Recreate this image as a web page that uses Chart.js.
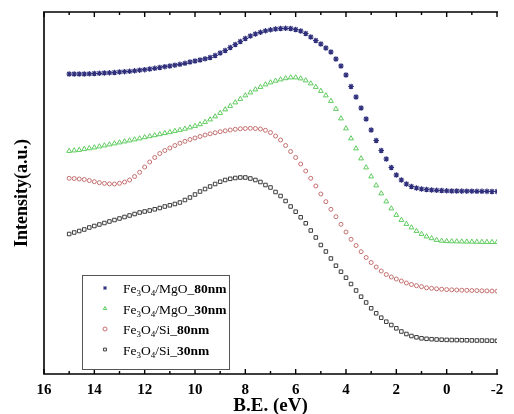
<!DOCTYPE html>
<html>
<head>
<meta charset="utf-8">
<script src="https://cdn.jsdelivr.net/npm/chart.js@4.4.1/dist/chart.umd.min.js"></script>
<style>
    html, body { margin: 0; padding: 0; background: #fff; }
    #wrap { width: 514px; height: 414px; }
</style>
</head>
<body>
<div id="wrap"><canvas id="xpsChart"></canvas></div>
<script>
// binding energy (eV), 0.2 eV steps
const energy = [
    15, 14.8, 14.6, 14.4, 14.2, 14, 13.8, 13.6, 13.4, 13.2,
    13, 12.8, 12.6, 12.4, 12.2, 12, 11.8, 11.6, 11.4, 11.2,
    11, 10.8, 10.6, 10.4, 10.2, 10, 9.8, 9.6, 9.4, 9.2,
    9, 8.8, 8.6, 8.4, 8.2, 8, 7.8, 7.6, 7.4, 7.2,
    7, 6.8, 6.6, 6.4, 6.2, 6, 5.8, 5.6, 5.4, 5.2,
    5, 4.8, 4.6, 4.4, 4.2, 4, 3.8, 3.6, 3.4, 3.2,
    3, 2.8, 2.6, 2.4, 2.2, 2, 1.8, 1.6, 1.4, 1.2,
    1, 0.8, 0.6, 0.4, 0.2, 0, -0.2, -0.4, -0.6, -0.8,
    -1, -1.2, -1.4, -1.6, -1.8, -2
];

// intensities in arbitrary units (offset curves)
const mgo80 = [
    300, 300, 300, 300, 300.2, 300.5, 300.7, 301, 301.2, 301.5,
    302, 302.3, 302.7, 303.2, 303.8, 304.3, 305, 305.7, 306.5, 307.3,
    308, 308.8, 309.7, 310.7, 312, 313, 314, 315.2, 316.5, 318.5,
    321, 323.5, 326.5, 329.5, 332.5, 335.5, 338, 340, 341.7, 343.2,
    344.2, 345, 345.5, 345.7, 345.5, 344.5, 343, 340.5, 337, 333.5,
    330, 326, 322, 315, 308, 299, 287.5, 277, 266, 255,
    244, 233.5, 223.5, 215, 206.5, 199, 194, 190, 187.5, 186,
    185, 184.5, 184, 183.7, 183.5, 183.2, 183, 183, 182.9, 182.8,
    182.8, 182.7, 182.7, 182.6, 182.5, 182.5
];

const mgo30 = [
    223, 223.5, 224, 225, 225.7, 226.5, 227.5, 228.5, 229.5, 230.5,
    231.5, 232.5, 233.5, 234.5, 235.5, 236.7, 237.7, 238.7, 239.7, 240.8,
    241.8, 243, 244, 245.2, 246.5, 248, 249.7, 252, 254.5, 257.5,
    261, 264.5, 268, 271.5, 275, 278.5, 281.5, 284.5, 287, 289.5,
    291.5, 293.2, 294.5, 295.7, 296.5, 296.5, 295.5, 293.5, 290.5, 287,
    283, 278.5, 273, 265, 255.5, 245.5, 235.5, 225.5, 215.5, 206.5,
    197.5, 188.5, 180.5, 172.5, 165.5, 159, 154, 150, 146.5, 143,
    140, 137.5, 135.7, 134, 133.2, 132.8, 132.6, 132.5, 132.4, 132.3,
    132.2, 132.1, 132, 132, 131.9, 131.8
];

const si80 = [
    195.7, 195.5, 195, 194.5, 193.5, 192.3, 191.3, 190.6, 190.1, 190,
    190.7, 192, 194, 197.5, 201.7, 207, 212, 216.5, 220.5, 223.5,
    226, 228.5, 230.8, 232.7, 234.5, 236, 237.5, 239, 240.2, 241.3,
    242.3, 243.2, 244, 244.7, 245.2, 245.5, 245.7, 245.5, 245, 243.7,
    241.5, 238, 234, 228.5, 222.5, 216.5, 210, 203, 195.7, 188,
    180, 172.3, 164.7, 157.3, 149.7, 142, 134.7, 128.5, 122.3, 116.5,
    111.5, 107, 103, 99.5, 97, 95, 93, 91, 89.5, 88.3,
    87.3, 86.2, 85.7, 85.2, 84.8, 84.4, 84.2, 84, 83.8, 83.7,
    83.5, 83.4, 83.2, 83.1, 83, 82.8
];

const si30 = [
    140, 141.5, 143, 144.5, 146.5, 148, 149.5, 151, 152.5, 154,
    155.5, 157, 158.5, 160, 161.5, 162.5, 163.5, 164.7, 166, 167.5,
    168.7, 170, 171.5, 174, 176.5, 179.5, 182.5, 185, 187.5, 190,
    192.3, 194, 195.2, 196, 196.5, 196.5, 195.5, 194, 192, 189,
    186.5, 182, 178, 173, 167.5, 162.3, 156.7, 150.7, 143.5, 136.5,
    129, 122.5, 115.5, 108.3, 102.3, 96.3, 90, 83.5, 77.3, 71.5,
    65.7, 60.7, 56.3, 52.3, 49, 45.7, 42.5, 40, 38, 36.7,
    35.7, 35.2, 34.8, 34.5, 34.3, 34.1, 34, 33.9, 33.8, 33.7,
    33.6, 33.5, 33.5, 33.4, 33.3, 33.2
];

const seriesLabels = ["Fe3O4/MgO_80nm", "Fe3O4/MgO_30nm", "Fe3O4/Si_80nm", "Fe3O4/Si_30nm"];
const xTickStep = 2;

const SERIF = '"Liberation Serif", "Times New Roman", serif';

function toPoints(vals) {
    return energy.map((e, i) => ({ x: e, y: vals[i] }));
}

// inward ticks + left/top/bottom spines, no right spine
const framePlugin = {
    id: "frame",
    afterDraw(chart) {
        const ctx = chart.ctx;
        const ca = chart.chartArea;
        const xs = chart.scales.x;
        ctx.save();
        ctx.strokeStyle = "#000";
        ctx.lineWidth = 1.6;
        ctx.beginPath();
        ctx.moveTo(ca.right + 1, ca.top);
        ctx.lineTo(ca.left, ca.top);
        ctx.lineTo(ca.left, ca.bottom);
        ctx.lineTo(ca.right + 1, ca.bottom);
        ctx.stroke();

        ctx.lineWidth = 1.4;
        ctx.beginPath();
        xs.ticks.forEach(t => {
            const vals = [[t.value, 5], [t.value + xTickStep / 2, 3]];
            vals.forEach(([v, len]) => {
                if (v > xs.max || v < xs.min) return;
                const px = xs.getPixelForValue(v);
                ctx.moveTo(px, ca.bottom);
                ctx.lineTo(px, ca.bottom - len);
                ctx.moveTo(px, ca.top);
                ctx.lineTo(px, ca.top + len);
            });
        });
        ctx.stroke();
        ctx.restore();
    }
};

// legend with subscripts and bold thickness part
const legendPlugin = {
    id: "subLegend",
    afterDraw(chart) {
        const ctx = chart.ctx;
        const ca = chart.chartArea;
        const bx = ca.left + 38, by = ca.bottom - 99, bw = 147, bh = 94;
        ctx.save();
        ctx.fillStyle = "#fff";
        ctx.fillRect(bx, by, bw, bh);
        ctx.strokeStyle = "#555";
        ctx.lineWidth = 1;
        ctx.strokeRect(bx + 0.5, by + 0.5, bw, bh);

        chart.data.datasets.forEach((ds, i) => {
            const cy = by + 13 + i * 20.5;
            ctx.strokeStyle = ds.borderColor;
            ctx.fillStyle = ds.backgroundColor;
            ctx.lineWidth = 1;
            Chart.helpers.drawPoint(ctx, {
                pointStyle: ds.pointStyle,
                radius: 2,
                borderWidth: 1
            }, bx + 23, cy);

            const [prefix, suffix] = ds.label.split("_");
            let x = bx + 41;
            ctx.fillStyle = "#000";
            ctx.textBaseline = "alphabetic";
            const base = cy + 5;
            prefix.split(/(\d)/).forEach(part => {
                if (!part) return;
                if (/^\d$/.test(part)) {
                    ctx.font = "9px " + SERIF;
                    ctx.fillText(part, x, base + 3);
                } else {
                    ctx.font = "13.5px " + SERIF;
                    ctx.fillText(part, x, base);
                }
                x += ctx.measureText(part).width;
            });
            ctx.font = "13.5px " + SERIF;
            ctx.fillText("_", x, base);
            x += ctx.measureText("_").width;
            ctx.font = "bold 13.5px " + SERIF;
            ctx.fillText(suffix, x, base);
        });
        ctx.restore();
    }
};

const ctx = document.getElementById("xpsChart");

new Chart(ctx, {
    type: "scatter",
    data: {
        datasets: [
            {
                label: seriesLabels[0],
                data: toPoints(mgo80),
                pointStyle: "star",
                pointRadius: 2.8,
                borderColor: "#2f2f7c",
                backgroundColor: "#2f2f7c",
                borderWidth: 1.2
            },
            {
                label: seriesLabels[1],
                data: toPoints(mgo30),
                pointStyle: "triangle",
                pointRadius: 2.8,
                borderColor: "#5fcb5f",
                backgroundColor: "rgba(0,0,0,0)",
                borderWidth: 1
            },
            {
                label: seriesLabels[2],
                data: toPoints(si80),
                pointStyle: "circle",
                pointRadius: 2,
                borderColor: "#c46f6f",
                backgroundColor: "rgba(0,0,0,0)",
                borderWidth: 1
            },
            {
                label: seriesLabels[3],
                data: toPoints(si30),
                pointStyle: "rect",
                pointRadius: 2.5,
                borderColor: "#3c3c3c",
                backgroundColor: "rgba(0,0,0,0)",
                borderWidth: 1
            }
        ]
    },
    options: {
        responsive: true,
        maintainAspectRatio: false,
        animation: false,
        layout: { padding: { top: 12, right: 17, left: 0, bottom: 0 } },
        plugins: {
            legend: { display: false },
            tooltip: { enabled: false }
        },
        scales: {
            x: {
                type: "linear",
                reverse: true,
                min: -2,
                max: 16,
                afterFit(scale) { scale.height = 40; },
                grid: { display: false, drawTicks: false },
                border: { display: false },
                ticks: {
                    stepSize: xTickStep,
                    padding: 7,
                    color: "#000",
                    font: { family: SERIF, size: 15, weight: "bold" }
                },
                title: {
                    display: true,
                    text: "B.E. (eV)",
                    color: "#000",
                    padding: { top: 0, bottom: 0 },
                    font: { family: SERIF, size: 19, weight: "bold", lineHeight: 0.8 }
                }
            },
            y: {
                min: 0,
                max: 362,
                afterFit(scale) { scale.width = 44; },
                grid: { display: false },
                border: { display: false },
                ticks: { display: false },
                title: {
                    display: true,
                    text: "Intensity(a.u.)",
                    color: "#000",
                    padding: { top: 12, bottom: 0 },
                    font: { family: SERIF, size: 18, weight: "bold" }
                }
            }
        }
    },
    plugins: [framePlugin, legendPlugin]
});
</script>
</body>
</html>
